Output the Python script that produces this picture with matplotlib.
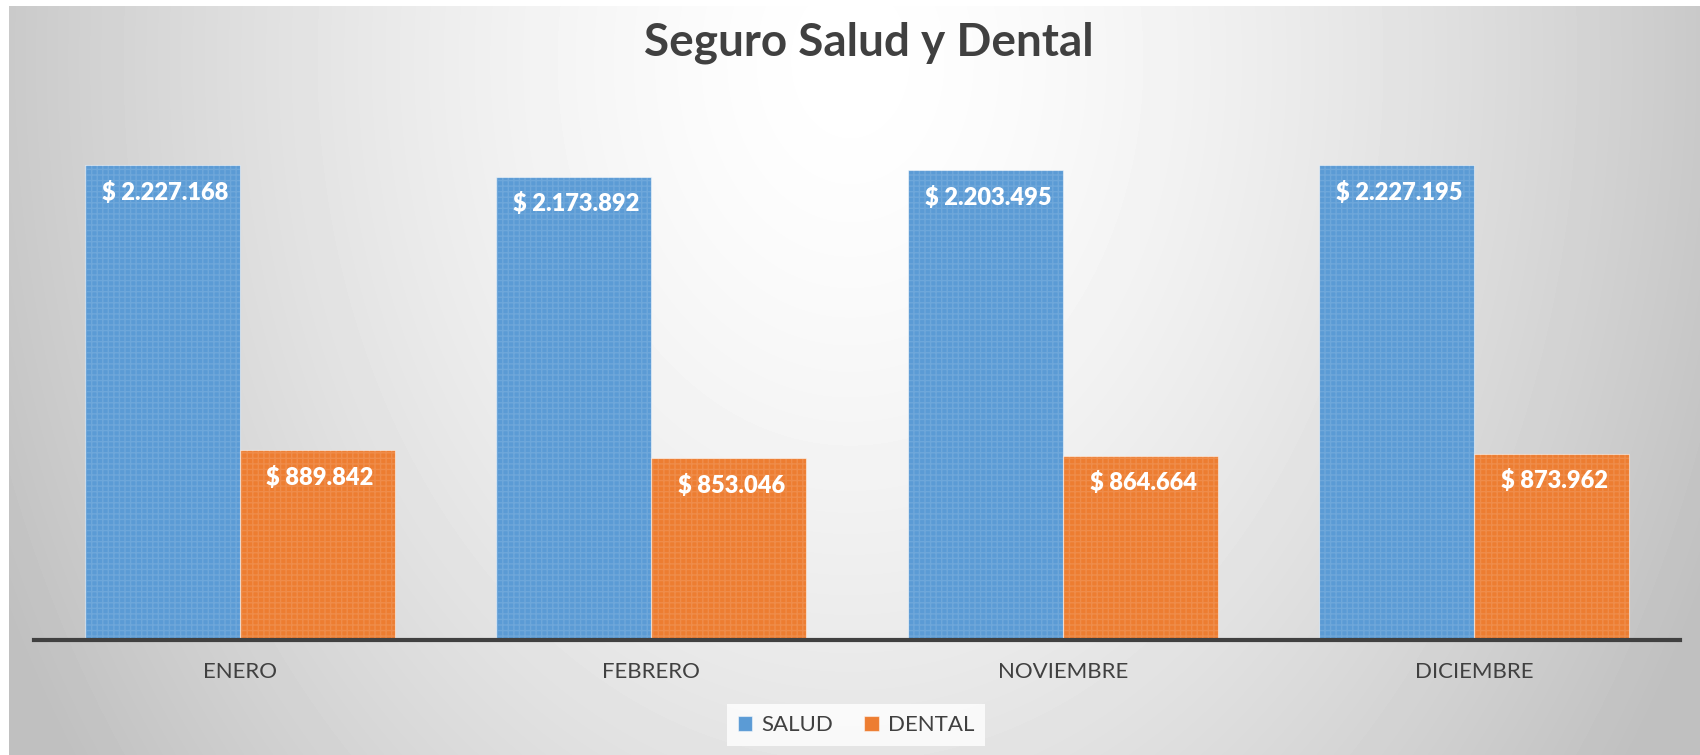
import numpy as np
import matplotlib.pyplot as plt

# datos
meses = ["ENERO", "FEBRERO", "NOVIEMBRE", "DICIEMBRE"]
salud = [2227168, 2173892, 2203495, 2227195]
dental = [889842, 853046, 864664, 873962]
series = ["SALUD", "DENTAL"]

azul = "#5B9BD5"
naranja = "#ED7D31"
gris_texto = "#404040"

plt.rcParams["font.family"] = ["Lato", "DejaVu Sans"]

W, H = 1700, 755
fig = plt.figure(figsize=(W / 100, H / 100), dpi=100)
fig.patch.set_facecolor("white")

# fondo con degradado radial (blanco arriba al centro, gris en los bordes)
bg = fig.add_axes([9 / W, 0, (W - 9) / W, (H - 6) / H], zorder=0)
xx = np.arange(9, W)
yy = np.arange(6, H)
X, Y = np.meshgrid(xx, yy)
r = np.sqrt(((X - 850) / 940.0) ** 2 + ((Y - 60) / 1236.0) ** 2)
v = 255 - 63 * np.clip(r, 0, 1) ** 1.5
bg.imshow(v, cmap="gray", vmin=0, vmax=255, aspect="auto", interpolation="bilinear")
bg.axis("off")

# eje principal
ax = fig.add_axes([34 / W, (H - 640) / H, 1646 / W, 528.7 / H], zorder=1)
ax.patch.set_alpha(0)

x = np.arange(len(meses))
w = 0.3767
b1 = ax.bar(x - w / 2, salud, w, color=azul, edgecolor=(1, 1, 1, 0.5), linewidth=0.8, label=series[0])
b2 = ax.bar(x + w / 2, dental, w, color=naranja, edgecolor=(1, 1, 1, 0.5), linewidth=0.8, label=series[1])
# textura punteada suave
ax.bar(x - w / 2, salud, w, color="none", edgecolor=(1, 1, 1, 0.12), linewidth=0, hatch="+++")
ax.bar(x + w / 2, dental, w, color="none", edgecolor=(1, 1, 1, 0.12), linewidth=0, hatch="+++")

def fmt(v):
    return "$ " + f"{v:,}".replace(",", ".")

for bars, vals in [(b1, salud), (b2, dental)]:
    for rect, val in zip(bars, vals):
        ax.annotate(fmt(val), (rect.get_x() + rect.get_width() / 2, rect.get_height()),
                    xytext=(2, -19.5), textcoords="offset points",
                    ha="center", va="center", color="white", fontsize=17, fontweight="heavy")

ax.set_xlim(-0.5, len(meses) - 0.5)
ax.set_ylim(0, 2480000)
ax.set_xticks(x)
ax.set_xticklabels(meses, fontsize=16, color=gris_texto)
ax.tick_params(axis="x", length=0, pad=16)
ax.set_yticks([])
for s in ["top", "right", "left"]:
    ax.spines[s].set_visible(False)
ax.spines["bottom"].set_color(gris_texto)
ax.spines["bottom"].set_linewidth(3)

fig.text(869 / W, 1 - 56 / H, "Seguro Salud y Dental", ha="center", va="baseline",
         fontsize=33, fontweight="bold", color=gris_texto)

leg = fig.legend(handles=[b1, b2], labels=series, loc="center",
                 bbox_to_anchor=(856 / W, 1 - 725 / H), ncol=2, frameon=True,
                 fontsize=16, handlelength=0.65, handleheight=0.65, handletextpad=0.4,
                 columnspacing=1.4, borderpad=0.5, fancybox=False)
leg.get_frame().set_facecolor((1, 1, 1, 0.2))
leg.get_frame().set_edgecolor("none")
for t in leg.get_texts():
    t.set_color(gris_texto)

plt.savefig("out.png", dpi=100)
